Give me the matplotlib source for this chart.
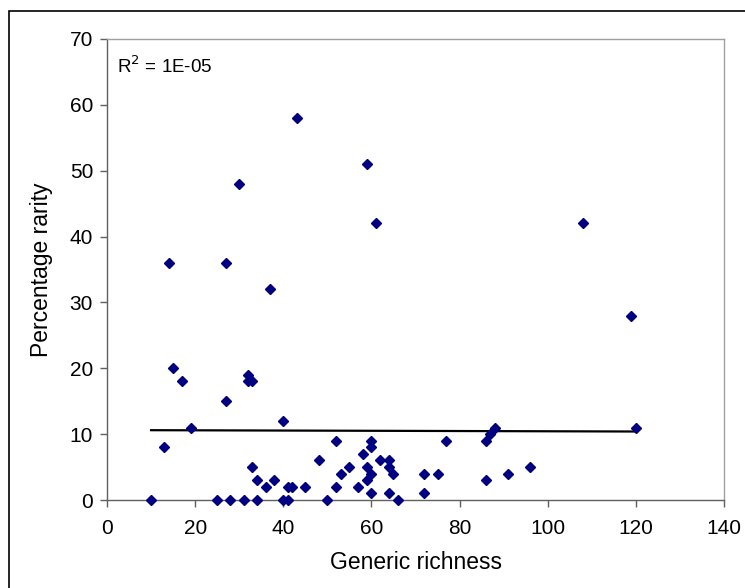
import numpy as np
import matplotlib
matplotlib.use("Agg")
import matplotlib.pyplot as plt
from matplotlib.patches import Rectangle

plt.rcParams['font.family'] = ['Liberation Sans', 'DejaVu Sans']

# generic richness vs percentage rarity
richness = [10, 13, 14, 15, 17, 19, 25, 27, 27, 28, 30, 31, 32, 32, 33, 33, 34, 34,
            36, 37, 38, 40, 40, 41, 41, 42, 43, 45, 48, 50, 52, 52, 53, 55, 57, 58,
            59, 59, 59, 60, 60, 60, 60, 61, 62, 64, 64, 64, 65, 66, 72, 72, 75, 77,
            86, 86, 87, 88, 91, 96, 108, 119, 120]
rarity = [0, 8, 36, 20, 18, 11, 0, 36, 15, 0, 48, 0, 19, 18, 18, 5, 3, 0,
          2, 32, 3, 12, 0, 0, 2, 2, 58, 2, 6, 0, 2, 9, 4, 5, 2, 7,
          51, 5, 3, 9, 8, 4, 1, 42, 6, 6, 5, 1, 4, 0, 4, 1, 4, 9,
          9, 3, 10, 11, 4, 5, 42, 28, 11]

# linear trend line ends
trend_x = [10, 120]
trend_y = [10.6, 10.4]
r2_label = "1E-05"

fig = plt.figure(figsize=(7.45, 5.88), dpi=100)
fig.patches.append(Rectangle((9 / 745, -0.1), 1.2, 1 - 11 / 588 + 0.1,
                             transform=fig.transFigure, fill=False,
                             edgecolor='black', linewidth=1.2))

ax = fig.add_axes([107 / 745, 1 - 500 / 588, (724 - 107) / 745, (500 - 39) / 588])

ax.plot(trend_x, trend_y, color='black', linewidth=1.6, zorder=2)
ax.plot(richness, rarity, linestyle='none', marker='D', markersize=5.5,
        color='#000080', zorder=3, clip_on=False)

ax.set_xlim(0, 140)
ax.set_ylim(0, 70)
ax.set_xticks(range(0, 141, 20))
ax.set_yticks(range(0, 71, 10))

for side in ['top', 'right']:
    ax.spines[side].set_color('#a0a0a0')
for side in ['left', 'bottom']:
    ax.spines[side].set_color('#606060')
for s in ax.spines.values():
    s.set_linewidth(1.0)

ax.tick_params(direction='out', length=5, width=1, color='#606060', labelsize=15)
ax.tick_params(axis='x', pad=9)
ax.tick_params(axis='y', pad=5)

ax.set_xlabel('Generic richness', fontsize=16.5, labelpad=9)
ax.set_ylabel('Percentage rarity', fontsize=16.5, labelpad=12)

ax.text(0.017, 0.94, 'R$^2$ = ' + r2_label, transform=ax.transAxes,
        fontsize=13.5, ha='left', va='center')

fig.savefig('out.png', dpi=100)
